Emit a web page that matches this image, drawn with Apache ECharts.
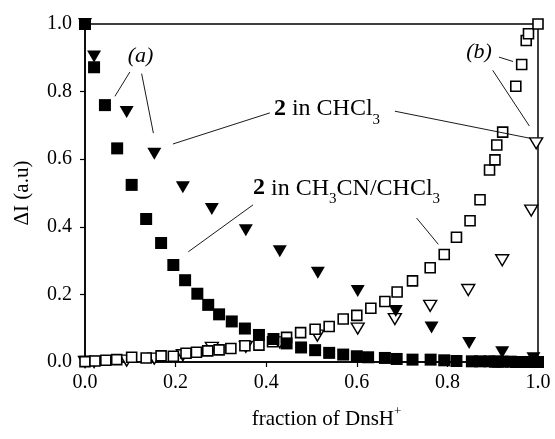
<!DOCTYPE html>
<html>
<head>
<meta charset="utf-8">
<script src="https://cdn.jsdelivr.net/npm/echarts@6/dist/echarts.min.js"></script>
<style>
  html, body { margin: 0; padding: 0; background: #fff; }
  #chart { width: 555px; height: 439px; }
</style>
</head>
<body>
<div id="chart"></div>
<script>
// Titration curves: emission change versus fraction of DnsH+
const xTicks = [0, 0.2, 0.4, 0.6, 0.8, 1.0];
const yTicks = [0, 0.2, 0.4, 0.6, 0.8, 1.0];

// 2 in CH3CN/CHCl3, band (a): filled squares
const sqFilledX = [0, 0.02, 0.044, 0.071, 0.103, 0.135, 0.168, 0.195, 0.221, 0.248, 0.272, 0.296, 0.324, 0.353,
  0.384, 0.416, 0.445, 0.477, 0.508, 0.539, 0.57, 0.6, 0.625, 0.662, 0.688, 0.723, 0.763, 0.793, 0.82, 0.854,
  0.872, 0.893, 0.905, 0.912, 0.922, 0.94, 0.951, 0.964, 0.974, 0.979, 0.99, 1.0];
const sqFilledY = [1.0, 0.872, 0.76, 0.632, 0.524, 0.423, 0.352, 0.287, 0.242, 0.202, 0.169, 0.141, 0.12, 0.099,
  0.08, 0.068, 0.055, 0.043, 0.035, 0.027, 0.022, 0.017, 0.014, 0.012, 0.009, 0.007, 0.007, 0.005, 0.003, 0.002,
  0.002, 0.002, 0.001, 0.001, 0.001, 0.001, 0, 0, 0, 0, 0, 0];

// 2 in CH3CN/CHCl3, band (b): open squares
const sqOpenX = [0, 0.022, 0.046, 0.07, 0.103, 0.135, 0.168, 0.195, 0.223, 0.246, 0.271, 0.296, 0.322, 0.353,
  0.384, 0.414, 0.445, 0.476, 0.508, 0.539, 0.57, 0.6, 0.631, 0.662, 0.689, 0.723, 0.762, 0.793, 0.82, 0.85,
  0.872, 0.893, 0.905, 0.909, 0.922, 0.951, 0.964, 0.974, 0.979, 1.0];
const sqOpenY = [0.001, 0.003, 0.005, 0.007, 0.014, 0.012, 0.018, 0.017, 0.026, 0.029, 0.033, 0.036, 0.04, 0.048,
  0.05, 0.06, 0.073, 0.087, 0.097, 0.105, 0.127, 0.138, 0.159, 0.179, 0.207, 0.24, 0.279, 0.318, 0.369, 0.418,
  0.48, 0.568, 0.598, 0.642, 0.68, 0.816, 0.88, 0.951, 0.971, 1.0];

// 2 in CHCl3, band (a): filled triangles
const triFilledX = [0, 0.02, 0.092, 0.153, 0.216, 0.28, 0.355, 0.43, 0.514, 0.602, 0.686, 0.765, 0.848, 0.921, 0.99];
const triFilledY = [1.0, 0.904, 0.74, 0.616, 0.517, 0.453, 0.39, 0.328, 0.264, 0.21, 0.151, 0.102, 0.056, 0.029, 0.011];

// 2 in CHCl3, band (b): open triangles
const triOpenX = [0, 0.02, 0.092, 0.153, 0.216, 0.28, 0.355, 0.43, 0.513, 0.602, 0.684, 0.762, 0.846, 0.921, 0.985, 0.996];
const triOpenY = [0, 0, 0.004, 0.01, 0.02, 0.042, 0.045, 0.058, 0.078, 0.099, 0.127, 0.166, 0.213, 0.301, 0.448, 0.647];

const FONT = "'Liberation Serif', 'Times New Roman', serif";

function pairs(xs, ys) { return xs.map((x, i) => [x, ys[i]]); }

const chart = echarts.init(document.getElementById('chart'), null, { renderer: 'canvas' });

const axisCommon = {
  type: 'value', min: 0, max: 1, interval: 0.2,
  axisLine: { show: true, lineStyle: { color: '#000', width: 1.5 } },
  axisTick: { show: true, inside: false, length: 5, lineStyle: { color: '#000', width: 1.2 } },
  splitLine: { show: false },
  axisLabel: { color: '#000', fontFamily: FONT, fontSize: 20, formatter: v => v.toFixed(1) }
};

chart.setOption({
  animation: false,
  backgroundColor: '#fff',
  grid: { left: 85, right: 17, top: 24, bottom: 76, show: true, borderColor: '#000', borderWidth: 1.5, backgroundColor: 'transparent' },
  xAxis: Object.assign({}, axisCommon, {
    axisLabel: Object.assign({}, axisCommon.axisLabel, { margin: 11 }),
    name: '{m|fraction of DnsH}{p|+}',
    nameLocation: 'middle', nameGap: 47,
    nameTextStyle: {
      padding: [0, 0, 0, 30],
      rich: {
        m: { fontFamily: FONT, fontSize: 21, color: '#000', verticalAlign: 'middle' },
        p: { fontFamily: FONT, fontSize: 13, color: '#000', verticalAlign: 'middle', padding: [0, 0, 16, 0], lineHeight: 13 }
      }
    }
  }),
  yAxis: Object.assign({}, axisCommon, {
    axisLabel: Object.assign({}, axisCommon.axisLabel, { margin: 13 }),
    name: 'ΔI (a.u)',
    nameLocation: 'middle', nameGap: 52,
    nameTextStyle: { fontFamily: FONT, fontSize: 21, color: '#000' }
  }),
  series: [
    {
      name: 'CHCl3 (b)', type: 'scatter', data: pairs(triOpenX, triOpenY),
      symbol: 'triangle', symbolRotate: 180, symbolSize: [13, 11],
      itemStyle: { color: '#fff', borderColor: '#000', borderWidth: 1.4, opacity: 1 }
    },
    {
      name: 'CH3CN/CHCl3 (b)', type: 'scatter', data: pairs(sqOpenX, sqOpenY),
      symbol: 'rect', symbolSize: 10,
      itemStyle: { color: '#fff', borderColor: '#000', borderWidth: 1.6, opacity: 1 }
    },
    {
      name: 'CH3CN/CHCl3 (a)', type: 'scatter', data: pairs(sqFilledX, sqFilledY),
      symbol: 'rect', symbolSize: 12,
      itemStyle: { color: '#000', opacity: 1 }
    },
    {
      name: 'CHCl3 (a)', type: 'scatter', data: pairs(triFilledX, triFilledY),
      symbol: 'triangle', symbolRotate: 180, symbolSize: [14, 12],
      itemStyle: { color: '#000', opacity: 1 }
    }
  ]
});

// Annotations placed in data coordinates
const px = p => chart.convertToPixel({ gridIndex: 0 }, p);

function leader(a, b) {
  const p1 = px(a), p2 = px(b);
  return { type: 'line', silent: true, z: 10,
    shape: { x1: p1[0], y1: p1[1], x2: p2[0], y2: p2[1] },
    style: { stroke: '#000', lineWidth: 0.9 } };
}

const richLabel = {
  n: { fontFamily: FONT, fontSize: 24, fill: '#000', verticalAlign: 'middle' },
  b: { fontFamily: FONT, fontSize: 24, fontWeight: 'bold', fill: '#000', verticalAlign: 'middle' },
  s: { fontFamily: FONT, fontSize: 15, fill: '#000', verticalAlign: 'middle', padding: [22, 0, 0, 0], lineHeight: 15 }
};

function label(text, at, opts) {
  const p = px(at);
  return { type: 'text', silent: true, z: 10, x: p[0], y: p[1],
    style: Object.assign({ text: text, fill: '#000', align: 'left', verticalAlign: 'middle', rich: richLabel }, opts || {}) };
}

chart.setOption({
  graphic: [
    label('(a)', [0.1225, 0.904], { font: "italic 22px " + FONT, align: 'center', rich: null }),
    leader([0.099, 0.858], [0.066, 0.786]),
    leader([0.125, 0.853], [0.151, 0.677]),

    label('(b)', [0.87, 0.916], { font: "italic 22px " + FONT, align: 'center', rich: null }),
    leader([0.914, 0.902], [0.945, 0.889]),
    leader([0.9, 0.863], [0.981, 0.698]),

    label('{b|2}{n| in CHCl}{s|3}', [0.417, 0.748]),
    leader([0.194, 0.645], [0.408, 0.737]),
    leader([0.684, 0.742], [0.982, 0.662]),

    label('{b|2}{n| in CH}{s|3}{n|CN/CHCl}{s|3}', [0.371, 0.514]),
    leader([0.228, 0.326], [0.371, 0.465]),
    leader([0.732, 0.426], [0.78, 0.348])
  ]
});
</script>
</body>
</html>
